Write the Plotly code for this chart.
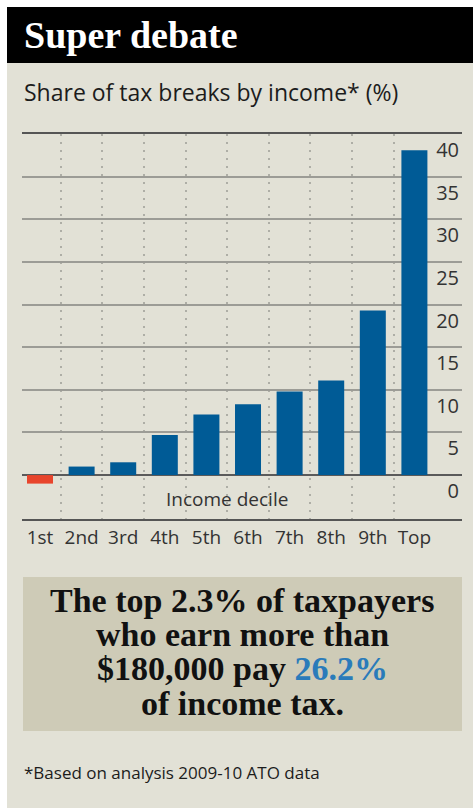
import plotly.graph_objects as go

# ---- data ----
deciles = ["1st", "2nd", "3rd", "4th", "5th", "6th", "7th", "8th", "9th", "Top"]
share = [-1.0, 1.0, 1.5, 4.7, 7.1, 8.3, 9.8, 11.1, 19.3, 38.1]
y_ticks = [0, 5, 10, 15, 20, 25, 30, 35, 40]
title = "Super debate"
subtitle = "Share of tax breaks by income* (%)"
x_title = "Income decile"
callout_lines = [
    "The top 2.3% of taxpayers",
    "who earn more than",
    "$180,000 pay <span style='color:#2a7bba'>26.2%</span>",
    "of income tax.",
]
footnote = "*Based on analysis 2009-10 ATO data"

# ---- layout geometry (pixels) ----
W, H = 473, 808
L, R, T, B = 22, 462, 134, 519


def px(xp):
    return (xp - L) / (R - L)


def py(yp):
    return (B - yp) / (B - T)


PANEL = "#e2e1d6"
CALLOUT = "#cecbb7"
POS = "#005b96"
NEG = "#e8452c"
SANS = "Open Sans, Noto Sans, sans-serif"
SERIF = "Liberation Serif, DejaVu Serif, serif"

x = list(range(len(deciles)))
colors = [NEG if v < 0 else POS for v in share]

fig = go.Figure(
    go.Bar(
        x=x,
        y=share,
        width=0.625,
        marker=dict(color=colors, line=dict(width=0)),
        hoverinfo="skip",
    )
)

fig.update_layout(
    width=W,
    height=H,
    autosize=False,
    margin=dict(l=L, r=W - R, t=T, b=H - B, pad=0),
    paper_bgcolor="white",
    plot_bgcolor="rgba(0,0,0,0)",
    showlegend=False,
    font=dict(family=SANS, color="#333333"),
)

fig.update_xaxes(
    range=[-0.433, 10.144],
    tickmode="array",
    tickvals=x,
    ticktext=deciles,
    ticks="",
    showgrid=False,
    zeroline=False,
    showline=True,
    mirror=True,
    linecolor="#555555",
    linewidth=2,
    tickfont=dict(size=19, color="#333333", family=SANS),
    minor=dict(
        tickmode="array",
        tickvals=[i + 0.5 for i in x[:-1]],
        showgrid=True,
        gridcolor="#aeaea6",
        gridwidth=2,
        griddash="2px,6px",
        ticks="",
    ),
    fixedrange=True,
)

fig.update_yaxes(
    range=[-5.15, 40],
    side="right",
    tickmode="array",
    tickvals=y_ticks,
    ticktext=[str(v) for v in y_ticks],
    ticks="",
    ticklabelposition="inside",
    ticklabelshift=16,
    ticklabelstandoff=0,
    showgrid=True,
    gridcolor="#9c9c96",
    gridwidth=1.5,
    zeroline=True,
    zerolinecolor="#5a5a5a",
    zerolinewidth=2,
    showline=False,
    tickfont=dict(size=20, color="#333333", family=SANS),
    fixedrange=True,
)

shapes = [
    # background panel
    dict(type="rect", xref="paper", yref="paper", x0=px(7), x1=px(473), y0=py(808), y1=py(7),
         fillcolor=PANEL, line=dict(width=0), layer="below"),
    # title bar
    dict(type="rect", xref="paper", yref="paper", x0=px(7), x1=px(473), y0=py(63), y1=py(7),
         fillcolor="black", line=dict(width=0), layer="below"),
    # callout box
    dict(type="rect", xref="paper", yref="paper", x0=px(23), x1=px(462), y0=py(731), y1=py(577),
         fillcolor=CALLOUT, line=dict(width=0), layer="below"),
]

annotations = [
    dict(text=f"<b>{title}</b>", xref="paper", yref="paper", x=px(22), y=py(35),
         xanchor="left", yanchor="middle", showarrow=False,
         font=dict(family=SERIF, size=38, color="white")),
    dict(text=subtitle, xref="paper", yref="paper", x=px(22), y=py(92),
         xanchor="left", yanchor="middle", showarrow=False,
         font=dict(family=SANS, size=23, color="#1c1c1c")),
    dict(text=x_title, xref="x", yref="y", x=4.5, y=-2.8,
         xanchor="center", yanchor="middle", showarrow=False,
         font=dict(family=SANS, size=19, color="#333333")),
    dict(text=footnote, xref="paper", yref="paper", x=px(22), y=py(772),
         xanchor="left", yanchor="middle", showarrow=False,
         font=dict(family=SANS, size=17, color="#1c1c1c")),
]

line_centers = [600, 634, 668, 703]
for txt, yc in zip(callout_lines, line_centers):
    annotations.append(
        dict(text=f"<b>{txt}</b>", xref="paper", yref="paper", x=px(242.5), y=py(yc),
             xanchor="center", yanchor="middle", showarrow=False,
             font=dict(family=SERIF, size=34, color="#111111"))
    )

fig.update_layout(shapes=shapes, annotations=annotations)

fig.write_html("out.html", config={"displayModeBar": False})
